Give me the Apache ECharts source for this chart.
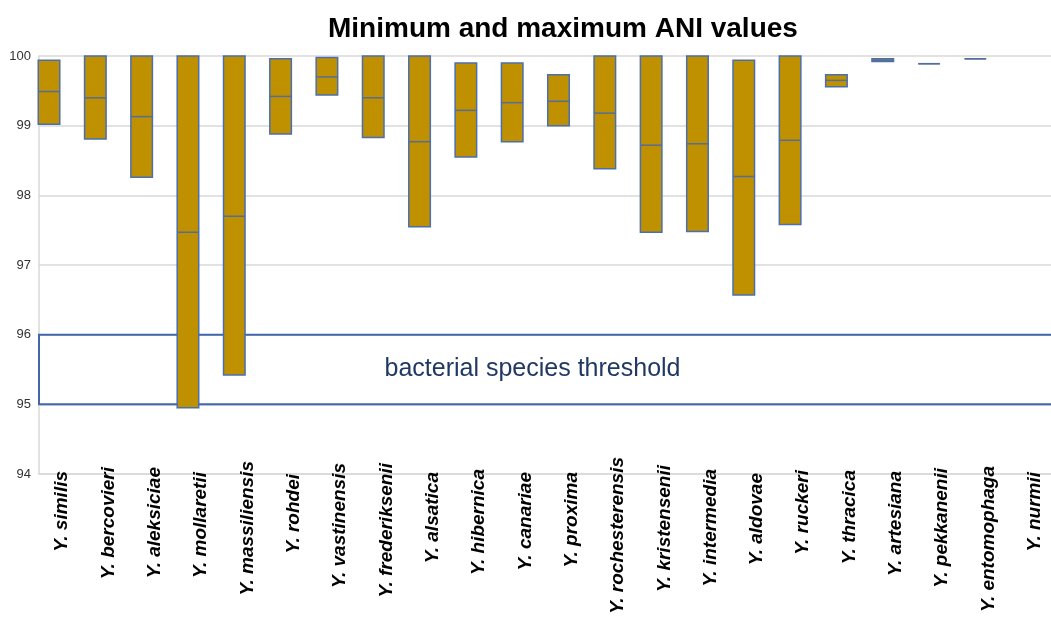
<!DOCTYPE html>
<html>
<head>
<meta charset="utf-8">
<script src="https://cdn.jsdelivr.net/npm/echarts@6/dist/echarts.min.js"></script>
<style>
  html, body { margin: 0; padding: 0; background: #fff; }
  #main { width: 1051px; height: 619px; }
</style>
</head>
<body>
<div id="main"></div>
<script>
// ANI ranges per species (null = no value shown)
var species = ['Y. similis', 'Y. bercovieri', 'Y. aleksiciae', 'Y. mollaretii', 'Y. massiliensis',
  'Y. rohdei', 'Y. vastinensis', 'Y. frederiksenii', 'Y. alsatica', 'Y. hibernica', 'Y. canariae',
  'Y. proxima', 'Y. rochesterensis', 'Y. kristensenii', 'Y. intermedia', 'Y. aldovae', 'Y. ruckeri',
  'Y. thracica', 'Y. artesiana', 'Y. pekkanenii', 'Y. entomophaga', 'Y. nurmii'];
var minAni  = [99.02, 98.81, 98.26, 94.95, 95.42, 98.88, 99.44, 98.83, 97.55, 98.55, 98.77,
  99.00, 98.38, 97.47, 97.48, 96.57, 97.58, 99.56, 99.92, 99.89, 99.96, null];
var meanAni = [99.49, 99.40, 99.13, 97.47, 97.70, 99.42, 99.70, 99.40, 98.77, 99.22, 99.33,
  99.35, 99.18, 98.72, 98.74, 98.27, 98.79, 99.65, 99.94, 99.89, 99.96, null];
var maxAni  = [99.94, 100, 100, 100, 100, 99.96, 99.98, 100, 100, 99.90, 99.90,
  99.73, 100, 100, 100, 99.94, 100, 99.73, 99.96, 99.89, 99.96, null];
var threshold = [95, 96];

// layout only: how far each rotated label sits below the highest one (px)
var labelShift = [14, 10, 10, 15, 4, 17, 6, 6, 15, 12, 15, 15, 0, 8, 12, 16, 13, 13, 14, 11, 9, 15];

var boxData = [];
species.forEach(function (s, i) {
  if (minAni[i] != null) boxData.push([i, minAni[i], meanAni[i], maxAni[i]]);
});

var labelFont = {
  fontFamily: 'Liberation Sans',
  fontSize: 19,
  fontWeight: 'bold',
  fontStyle: 'italic',
  color: '#000'
};
var labelRich = {};
labelShift.forEach(function (p, i) {
  labelRich['s' + i] = Object.assign({ padding: [0, p, 0, 0] }, labelFont);
});

function drawBox(params, api) {
  var i = api.value(0);
  var top = api.coord([i, api.value(3)]);
  var mid = api.coord([i, api.value(2)]);
  var bot = api.coord([i, api.value(1)]);
  var band = api.size([1, 0])[0];
  var w = band * 0.465;
  var x = top[0] - band * 0.284 - w / 2;
  return {
    type: 'group',
    children: [
      {
        type: 'rect',
        shape: { x: x, y: top[1], width: w, height: Math.max(bot[1] - top[1], 0) },
        style: { fill: '#BF9000', stroke: '#4a6fae', lineWidth: 1.5 }
      },
      {
        type: 'line',
        shape: { x1: x, y1: mid[1], x2: x + w, y2: mid[1] },
        style: { stroke: '#566d98', lineWidth: 1.5 }
      }
    ]
  };
}

var chart = echarts.init(document.getElementById('main'));
chart.setOption({
  animation: false,
  title: {
    text: 'Minimum and maximum ANI values',
    left: 323,
    top: 10,
    textStyle: { fontFamily: 'Liberation Sans', fontSize: 28, fontWeight: 'bold', color: '#000' }
  },
  grid: { left: 39, right: -7, top: 56, bottom: 145, outerBoundsMode: 'none', containLabel: false },
  xAxis: {
    type: 'category',
    data: species,
    axisTick: { show: false },
    axisLine: { lineStyle: { color: '#d9d9d9', width: 1.5 } },
    axisLabel: Object.assign({
      interval: 0,
      rotate: 90,
      margin: -17,
      formatter: function (val, idx) { return '{s' + idx + '|' + val + '}'; },
      rich: labelRich
    }, labelFont)
  },
  yAxis: {
    type: 'value',
    min: 94,
    max: 100,
    interval: 1,
    axisLine: { show: true, lineStyle: { color: '#d9d9d9', width: 1.5 } },
    axisTick: { show: false },
    splitLine: { lineStyle: { color: '#d9d9d9', width: 1.5 } },
    axisLabel: { fontFamily: 'Liberation Sans', fontSize: 13, color: '#333', margin: 8 }
  },
  series: [
    {
      type: 'custom',
      renderItem: drawBox,
      encode: { x: 0, y: [1, 2, 3] },
      data: boxData,
      z: 3
    },
    {
      type: 'line',
      data: [],
      markArea: {
        silent: true,
        itemStyle: { color: 'rgba(0,0,0,0)', borderColor: '#4166aa', borderWidth: 2 },
        label: {
          show: true,
          position: 'inside',
          offset: [-16, 0],
          fontFamily: 'Liberation Sans',
          fontSize: 25,
          color: '#203864'
        },
        data: [[
          { name: 'bacterial species threshold', yAxis: threshold[1] },
          { yAxis: threshold[0] }
        ]]
      },
      z: 4
    }
  ]
});
</script>
</body>
</html>
